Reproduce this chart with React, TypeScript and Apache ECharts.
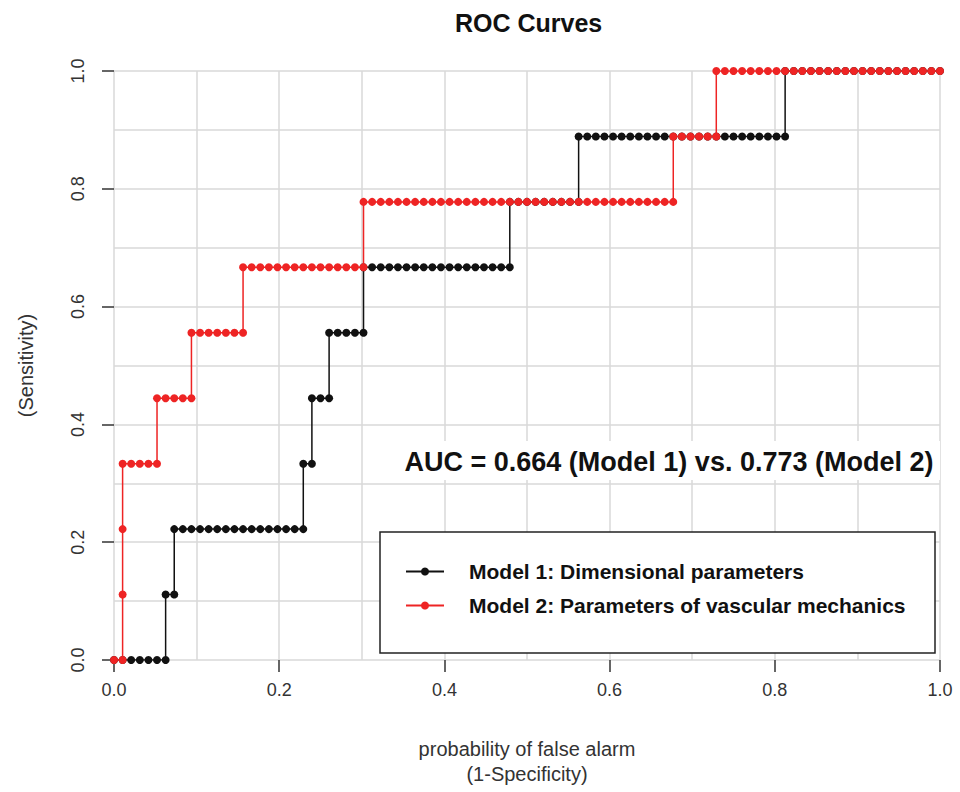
import React, { useEffect, useRef } from "react";
import * as echarts from "echarts";

// ROC data, as runs of equal true-positive count over false-positive counts
const NEGATIVES = 96;
const POSITIVES = 9;

const model1Tp = [0, 1, 2, 3, 4, 5, 6, 7, 8, 9];
const model1FpStart = [0, 6, 7, 22, 23, 25, 29, 46, 54, 78];
const model1FpEnd = [6, 7, 22, 23, 25, 29, 46, 54, 78, 96];

const model2Tp = [0, 1, 2, 3, 4, 5, 6, 7, 8, 9];
const model2FpStart = [0, 1, 1, 1, 5, 9, 15, 29, 65, 70];
const model2FpEnd = [1, 1, 1, 5, 9, 15, 29, 65, 70, 96];

const seriesNames = [
  "Model 1: Dimensional parameters",
  "Model 2: Parameters of vascular mechanics",
];
const aucText = "AUC = 0.664 (Model 1) vs. 0.773 (Model 2)";
const titleText = "ROC Curves";
const xName = "probability of false alarm\n(1-Specificity)";
const yName = "(Sensitivity)";

function buildPoints(tp: number[], start: number[], end: number[]) {
  const pts: number[][] = [];
  for (let i = 0; i < tp.length; i++) {
    for (let fp = start[i]; fp <= end[i]; fp++) {
      pts.push([fp / NEGATIVES, tp[i] / POSITIVES]);
    }
  }
  return pts;
}

const FONT = "'Liberation Sans', Arial, Helvetica, sans-serif";

export default function App() {
  const ref = useRef<HTMLDivElement>(null);
  useEffect(() => {
    if (!ref.current) return;
    const chart = echarts.init(ref.current, undefined, { renderer: "svg" });
    const axisCommon = {
      type: "value",
      min: 0,
      max: 1,
      interval: 0.2,
      axisLine: { show: false },
      axisTick: { show: true, length: 12, lineStyle: { color: "#333", width: 1.5 } },
      minorTick: { show: false, splitNumber: 2 },
      splitLine: { show: true, lineStyle: { color: "#d9d9d9", width: 1.5 } },
      minorSplitLine: { show: true, lineStyle: { color: "#d9d9d9", width: 1.5 } },
      nameLocation: "middle",
      nameTextStyle: { fontFamily: FONT, fontSize: 20, color: "#333", lineHeight: 25 },
    };
    chart.setOption({
      animation: false,
      backgroundColor: "#fff",
      title: {
        text: titleText,
        left: 450,
        top: 5,
        textStyle: { fontFamily: FONT, fontSize: 25, fontWeight: "bold", color: "#111" },
      },
      grid: { left: 114, top: 71, width: 826, height: 589, containLabel: false },
      xAxis: {
        ...axisCommon,
        name: xName,
        nameGap: 76,
        axisLabel: {
          margin: 21,
          fontFamily: FONT,
          fontSize: 18,
          color: "#333",
          formatter: (v: number) => v.toFixed(1),
        },
      },
      yAxis: {
        ...axisCommon,
        name: yName,
        nameGap: 76,
        axisLabel: {
          margin: 27,
          rotate: 90,
          fontFamily: FONT,
          fontSize: 18,
          color: "#333",
          formatter: (v: number) => v.toFixed(1),
        },
      },
      legend: {
        orient: "vertical",
        left: 400,
        top: 556,
        itemWidth: 38,
        itemHeight: 10,
        itemGap: 13,
        z: 20,
        textStyle: {
          fontFamily: FONT,
          fontSize: 21,
          fontWeight: "bold",
          color: "#111",
          padding: [0, 0, 0, 20],
        },
        data: seriesNames,
      },
      graphic: [
        {
          type: "rect",
          z: 10,
          shape: { x: 380, y: 532, width: 555, height: 121 },
          style: { fill: "#fff", stroke: "#222", lineWidth: 1.5 },
        },
        {
          type: "rect",
          z: 10,
          shape: { x: 395, y: 441, width: 545, height: 39 },
          style: { fill: "#fff" },
        },
        {
          type: "text",
          z: 11,
          x: 669,
          y: 462,
          style: {
            text: aucText,
            fontFamily: FONT,
            fontSize: 27,
            fontWeight: "bold",
            fill: "#111",
            align: "center",
            verticalAlign: "middle",
          },
        },
      ],
      series: [
        {
          name: seriesNames[0],
          type: "line",
          data: buildPoints(model1Tp, model1FpStart, model1FpEnd),
          symbol: "circle",
          symbolSize: 8,
          showAllSymbol: true,
          color: "#111111",
          lineStyle: { color: "#111111", width: 1.5 },
          itemStyle: { color: "#111111" },
          z: 2,
        },
        {
          name: seriesNames[1],
          type: "line",
          data: buildPoints(model2Tp, model2FpStart, model2FpEnd),
          symbol: "circle",
          symbolSize: 8,
          showAllSymbol: true,
          color: "#ee2424",
          lineStyle: { color: "#ee2424", width: 1.5 },
          itemStyle: { color: "#ee2424" },
          z: 3,
        },
      ],
    });
    return () => chart.dispose();
  }, []);
  return (
    <div
      ref={ref}
      style={{ position: "fixed", left: 0, top: 0, width: 960, height: 792 }}
    />
  );
}
